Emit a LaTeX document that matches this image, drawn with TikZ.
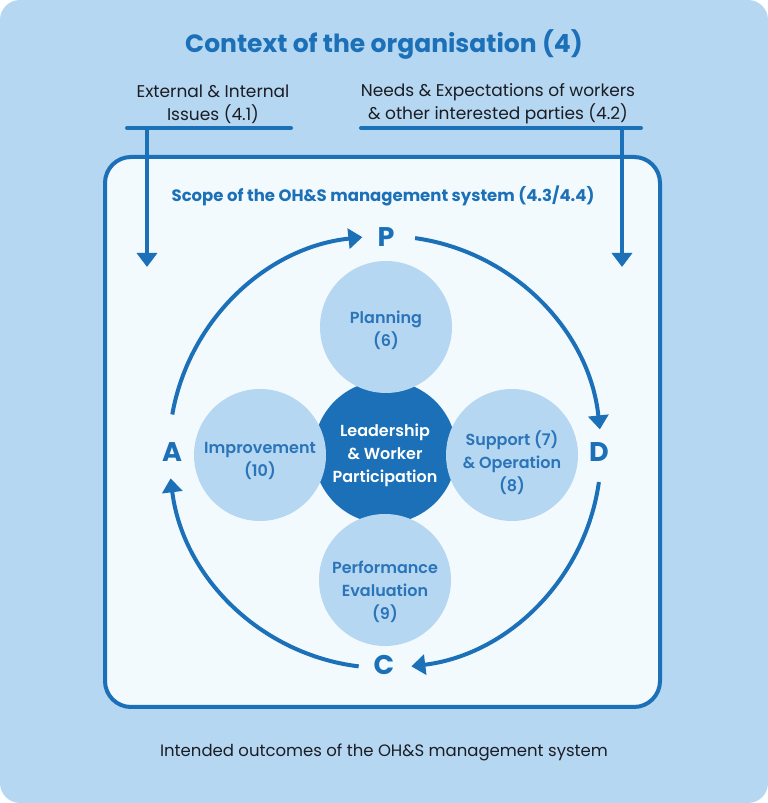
\documentclass[tikz,border=0pt]{standalone}
\usepackage{fontspec}
\setmainfont{Poppins}
\newfontfamily\semifont{Poppins}[UprightFont=* SemiBold]
\usetikzlibrary{positioning,arrows.meta}
\definecolor{skyblue}{HTML}{B6D7F1}
\definecolor{ohsblue}{HTML}{1B70B8}
\definecolor{paleblue}{HTML}{F3FAFE}
\definecolor{midblue}{HTML}{2A74BA}
\definecolor{inkblack}{HTML}{1A1D24}

\begin{document}
\begin{tikzpicture}[
    x=1pt, y=1pt,
    heading/.style={font=\bfseries\fontsize{25}{30}\selectfont, text=ohsblue},
    issue/.style={font=\fontsize{17}{23}\selectfont, text=inkblack, align=center},
    feed/.style={line width=4pt, draw=ohsblue, line cap=round},
    feedarrow/.style={line width=4pt, draw=ohsblue, -{Triangle[length=14pt,width=20pt]}},
    phase/.style={circle, fill=skyblue, minimum size=132pt, inner sep=0pt},
    phasetext/.style={font=\semifont\fontsize{16}{23}\selectfont, text=midblue, align=center},
    pdca/.style={font=\bfseries\fontsize{27}{27}\selectfont, text=ohsblue},
    cyclearrow/.style={line width=4pt, draw=ohsblue, -{Triangle[length=14pt,width=20pt]}}
  ]
    \useasboundingbox (0,0) rectangle (768,803);
    \fill[skyblue, rounded corners=20pt] (0,0) rectangle (768,803);

    % context
    \node (context) [heading] at (384,758) {Context of the organisation (4)};
    \node (issues) [issue] at (213,699) {External \& Internal\\Issues (4.1)};
    \node (needs) [issue] at (498,699) {Needs \& Expectations of workers\\\& other interested parties (4.2)};

    % scope box
    \node (scope-box) [draw=ohsblue, line width=4pt, fill=paleblue, rounded corners=26pt,
      minimum width=555pt, minimum height=550pt] at (382.5,371) {};
    \node (scope) [font=\bfseries\fontsize{16.5}{18}\selectfont, text=ohsblue] at (383,607)
      {Scope of the OH\&S management system (4.3/4.4)};

    \coordinate (issues-l) at (127,675);
    \coordinate (issues-r) at (291,675);
    \coordinate (issues-top) at (147,675);
    \coordinate (issues-end) at (147,536);
    \coordinate (needs-l) at (361,675);
    \coordinate (needs-r) at (641,675);
    \coordinate (needs-top) at (622,675);
    \coordinate (needs-end) at (622,536);

    \draw[feed] (issues-l) -- (issues-r);
    \draw[feed] (needs-l) -- (needs-r);
    \draw[feedarrow] (issues-top) -- (issues-end);
    \draw[feedarrow] (needs-top) -- (needs-end);

    % core
    \coordinate (hub) at (385,351);
    \node (leadership) [circle, fill=ohsblue, minimum size=143pt, inner sep=0pt,
      label={[phasetext, text=white, yshift=-3pt]center:Leadership\\\& Worker\\Participation}] at (hub) {};
    \node (planning) [phase, label={[phasetext, yshift=-3pt]center:Planning\\(6)}] at (386,476) {};
    \node (improvement) [phase, label={[phasetext, yshift=-6pt]center:Improvement\\(10)}] at (260,348) {};
    \node (support) [phase, label={[phasetext, yshift=-8pt]center:Support (7)\\\& Operation\\(8)}] at (512,348) {};
    \node (performance) [phase, label={[phasetext, yshift=-12pt]center:Performance\\Evaluation\\(9)}] at (385,223) {};

    % PDCA
    \node (P) [pdca] at (386,566) {P};
    \node (D) [pdca] at (599,351) {D};
    \node (C) [pdca] at (384,138) {C};
    \node (A) [pdca] at (172,351) {A};

    \coordinate (ap-start) at ([shift={(170:216)}]hub);
    \coordinate (pd-start) at ([shift={(82:216)}]hub);
    \coordinate (dc-start) at ([shift={(-8:216)}]hub);
    \coordinate (ca-start) at ([shift={(-97:216)}]hub);

    \draw[cyclearrow] (ap-start) arc[start angle=170, end angle=96, radius=216];
    \draw[cyclearrow] (pd-start) arc[start angle=82, end angle=6, radius=216];
    \draw[cyclearrow] (dc-start) arc[start angle=-8, end angle=-83, radius=216];
    \draw[cyclearrow] (ca-start) arc[start angle=-97, end angle=-173, radius=216];

    \node (outcomes) [font=\fontsize{16.5}{20}\selectfont, text=inkblack] at (384,51)
      {Intended outcomes of the OH\&S management system};
  \end{tikzpicture}
\end{document}
